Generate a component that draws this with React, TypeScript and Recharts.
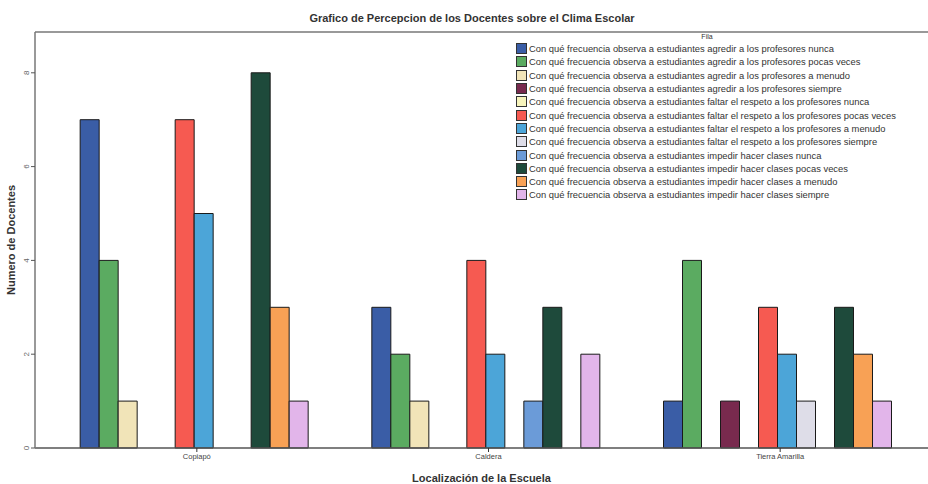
import { BarChart, Bar, XAxis, YAxis, ReferenceLine } from "recharts"

const schools = ["Copiapó", "Caldera", "Tierra Amarilla"]

const seriesNames = [
  "Con qué frecuencia observa a estudiantes agredir a los profesores nunca",
  "Con qué frecuencia observa a estudiantes agredir a los profesores pocas veces",
  "Con qué frecuencia observa a estudiantes agredir a los profesores a menudo",
  "Con qué frecuencia observa a estudiantes agredir a los profesores siempre",
  "Con qué frecuencia observa a estudiantes faltar el respeto a los profesores nunca",
  "Con qué frecuencia observa a estudiantes faltar el respeto a los profesores pocas veces",
  "Con qué frecuencia observa a estudiantes faltar el respeto a los profesores a menudo",
  "Con qué frecuencia observa a estudiantes faltar el respeto a los profesores siempre",
  "Con qué frecuencia observa a estudiantes impedir hacer clases nunca",
  "Con qué frecuencia observa a estudiantes impedir hacer clases pocas veces",
  "Con qué frecuencia observa a estudiantes impedir hacer clases a menudo",
  "Con qué frecuencia observa a estudiantes impedir hacer clases siempre",
]

// docentes por serie, en el orden de seriesNames
const copiapo = [7, 4, 1, 0, 0, 7, 5, 0, 0, 8, 3, 1]
const caldera = [3, 2, 1, 0, 0, 4, 2, 0, 1, 3, 0, 2]
const tierraAmarilla = [1, 4, 0, 1, 0, 3, 2, 1, 0, 3, 2, 1]

const yTicks = [0, 2, 4, 6, 8]

const colors = [
  "#3a5da6",
  "#5bab61",
  "#f1e4b8",
  "#782a4e",
  "#f7f4bc",
  "#f65a51",
  "#4ca5d8",
  "#dedde8",
  "#6b9bd8",
  "#1e4a3b",
  "#f8a155",
  "#e2b5ea",
]

const font = "'Liberation Sans', Arial, sans-serif"

const rows = [copiapo, caldera, tierraAmarilla]
const data = schools.map((school, i) => {
  const row: Record<string, string | number> = { school }
  seriesNames.forEach((_, j) => {
    row[`s${j}`] = rows[i][j]
  })
  return row
})

function YTick({ x, y, payload }: any) {
  const tx = x
  return (
    <text
      x={tx}
      y={y}
      transform={`rotate(-90 ${tx} ${y})`}
      textAnchor="middle"
      fontSize={8}
      fill="#666"
      fontFamily={font}
    >
      {payload.value}
    </text>
  )
}

function YLabel({ viewBox }: any) {
  const cx = 15
  const cy = viewBox.y + viewBox.height / 2
  return (
    <text
      x={cx}
      y={cy}
      transform={`rotate(-90 ${cx} ${cy})`}
      textAnchor="middle"
      fontSize={11}
      fontWeight="bold"
      fill="#333"
      fontFamily={font}
    >
      Numero de Docentes
    </text>
  )
}

export default function App() {
  return (
    <div
      style={{
        position: "absolute",
        left: 0,
        top: 0,
        width: 928,
        height: 484,
        background: "#fff",
        fontFamily: font,
      }}
    >
      <div
        style={{
          position: "absolute",
          left: 0,
          top: 12,
          width: 944,
          textAlign: "center",
          fontSize: 11,
          fontWeight: "bold",
          color: "#333",
        }}
      >
        Grafico de Percepcion de los Docentes sobre el Clima Escolar
      </div>

      <BarChart
        width={928}
        height={484}
        data={data}
        margin={{ top: 32, right: 0, bottom: 0, left: 0 }}
        barCategoryGap="10%"
        barGap={0}
      >
        <XAxis
          dataKey="school"
          height={36}
          padding={{ left: 16, right: 2 }}
          axisLine={{ stroke: "#555", strokeWidth: 1.5 }}
          tickLine={{ stroke: "#333" }}
          tickSize={4}
          tick={{ fontSize: 7.5, fill: "#444", fontFamily: font }}
          label={{
            value: "Localización de la Escuela",
            position: "insideBottom",
            offset: 2,
            fontSize: 11,
            fontWeight: "bold",
            fill: "#333",
            fontFamily: font,
          }}
        />
        <YAxis
          width={35}
          domain={[0, 8.87]}
          ticks={yTicks}
          axisLine={{ stroke: "#777", strokeWidth: 1.5 }}
          tickLine={{ stroke: "#555" }}
          tickSize={4}
          tick={<YTick />}
          label={<YLabel />}
        />
        <ReferenceLine y={8.87} stroke="#777" strokeWidth={1.5} ifOverflow="extendDomain" />
        {seriesNames.map((name, j) => (
          <Bar
            key={name}
            dataKey={`s${j}`}
            name={name}
            fill={colors[j]}
            stroke="#1a1a1a"
            strokeWidth={1}
            isAnimationActive={false}
          />
        ))}
      </BarChart>

      <div style={{ position: "absolute", left: 516, top: 32, width: 412, fontSize: 9.4, color: "#333" }}>
        <div style={{ textAlign: "center", fontSize: 7, lineHeight: "10px", marginLeft: -30 }}>Fila</div>
        {seriesNames.map((name, j) => (
          <div
            key={name}
            style={{ display: "flex", alignItems: "center", height: 13.3, whiteSpace: "nowrap" }}
          >
            <span
              style={{
                display: "inline-block",
                width: 9,
                height: 9,
                background: colors[j],
                border: "1px solid #333",
                marginRight: 2,
                flexShrink: 0,
              }}
            />
            <span>{name}</span>
          </div>
        ))}
      </div>
    </div>
  )
}
